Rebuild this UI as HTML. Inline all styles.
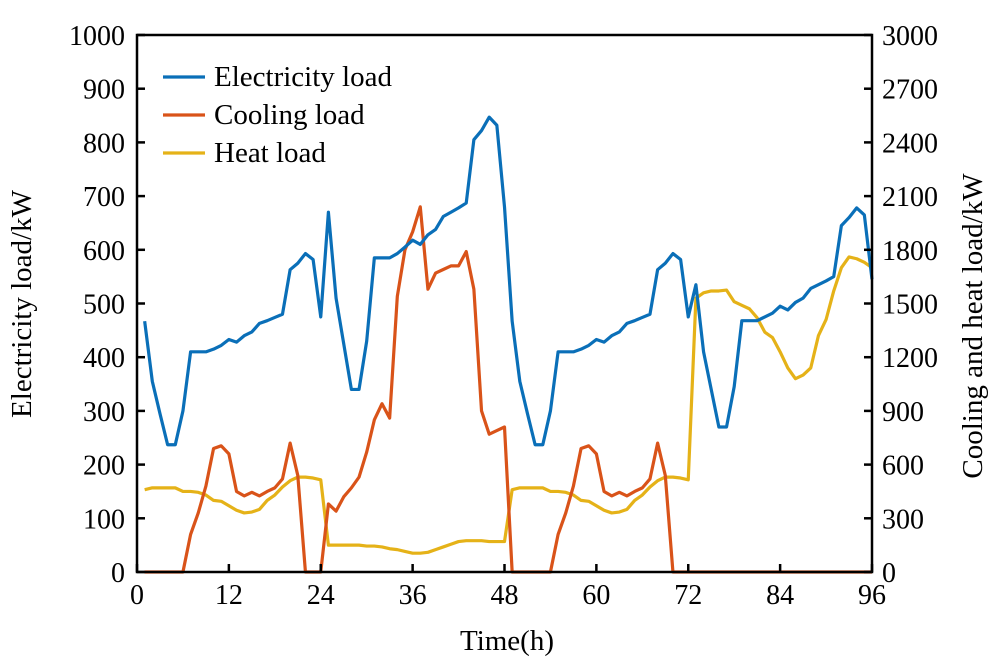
<!DOCTYPE html>
<html><head><meta charset="utf-8"><style>
body{margin:0;background:#fff}
svg text{font-family:"Liberation Serif",serif;fill:#000}
</style></head><body>
<svg id="c" width="998" height="666"></svg>
<script>
const hours=[...Array(96)].map((_,i)=>i+1);
const elecDay1=[467,355,295,237,237,300,410,410,410,415,422,433,428,440,447,463,468,474,480,563,575,593,582,475];
const elec=[...elecDay1,670,510,425,340,340,430,585,585,585,593,605,618,610,628,638,662,670,678,687,805,822,847,832,680,
 ...elecDay1,535,410,340,270,270,345,468,468,468,475,482,495,488,502,510,528,535,542,550,645,660,678,665,545];
const coolDay1=[0,0,0,0,0,0,210,330,480,690,705,660,450,425,445,425,450,470,520,720,540,0,0,0];
const cool=[...coolDay1,380,340,420,470,530,670,850,940,860,1540,1800,1900,2040,1580,1670,1690,1710,1710,1790,1580,900,770,790,810,
 ...coolDay1,0,0,0,0,0,0,0,0,0,0,0,0,0,0,0,0,0,0,0,0,0,0,0,0];
const heatDay1=[460,470,470,470,470,450,450,445,430,400,395,370,345,330,335,350,400,430,475,510,530,530,525,515];
const heat=[...heatDay1,150,150,150,150,150,145,145,140,130,125,115,105,105,110,125,140,155,170,175,175,175,170,170,170,
 ...heatDay1,1530,1560,1570,1570,1575,1510,1490,1470,1420,1340,1310,1230,1140,1080,1100,1140,1320,1410,1570,1700,1760,1750,1730,1700];
const xTicks=[0,12,24,36,48,60,72,84,96];
const yLTicks=[0,100,200,300,400,500,600,700,800,900,1000];
const yRTicks=[0,300,600,900,1200,1500,1800,2100,2400,2700,3000];
const L=137,R=872,T=35,B=572;
const X=t=>L+(R-L)*t/96, YL=v=>B-(B-T)*v/1000, YR=v=>B-(B-T)*v/3000;
const svg=document.getElementById('c'),NS='http://www.w3.org/2000/svg';
function mk(tag,a,p){const e=document.createElementNS(NS,tag);for(const k in a)e.setAttribute(k,a[k]);(p||svg).appendChild(e);return e;}
function line(vals,f,col,name){const p=mk('polyline',{points:vals.map((v,i)=>X(hours[i])+','+f(v)).join(' '),fill:'none',stroke:col,'stroke-width':3.2,'stroke-linejoin':'round'});

}
line(heat,YR,'#e5b218','heat-load-line');
line(cool,YR,'#d95319','cooling-load-line');
line(elec,YL,'#0a6fb8','electricity-load-line');
const fr=mk('rect',{x:L,y:T,width:R-L,height:B-T,fill:'none',stroke:'#000','stroke-width':2.5});


const FS=28;
xTicks.forEach(t=>{mk('line',{x1:X(t),x2:X(t),y1:B,y2:B-8,stroke:'#000','stroke-width':2.5});
const e=mk('text',{x:X(t),y:B+32,'text-anchor':'middle','font-size':FS});e.textContent=t;

});
yLTicks.forEach(v=>{mk('line',{x1:L,x2:L+8,y1:YL(v),y2:YL(v),stroke:'#000','stroke-width':2.5});
const e=mk('text',{x:L-12,y:YL(v)+10,'text-anchor':'end','font-size':FS});e.textContent=v;

});
yRTicks.forEach(v=>{mk('line',{x1:R,x2:R-8,y1:YR(v),y2:YR(v),stroke:'#000','stroke-width':2.5});
const e=mk('text',{x:R+10,y:YR(v)+10,'text-anchor':'start','font-size':FS});e.textContent=v;

});
let e=mk('text',{x:507,y:650,'text-anchor':'middle','font-size':29});e.textContent='Time(h)';


e=mk('text',{x:0,y:0,'text-anchor':'middle','font-size':29,transform:'translate(31,304) rotate(-90)'});e.textContent='Electricity load/kW';


e=mk('text',{x:0,y:0,'text-anchor':'middle','font-size':29,transform:'translate(982,326) rotate(-90)'});e.textContent='Cooling and heat load/kW';


[['Electricity load','#0a6fb8',77],['Cooling load','#d95319',115],['Heat load','#e5b218',153]].forEach(([n,c,y])=>{
mk('line',{x1:163,x2:205,y1:y,y2:y,stroke:c,'stroke-width':3.2});
const t=mk('text',{x:214,y:y+9,'font-size':29});t.textContent=n;

});
</script>
</body></html>
